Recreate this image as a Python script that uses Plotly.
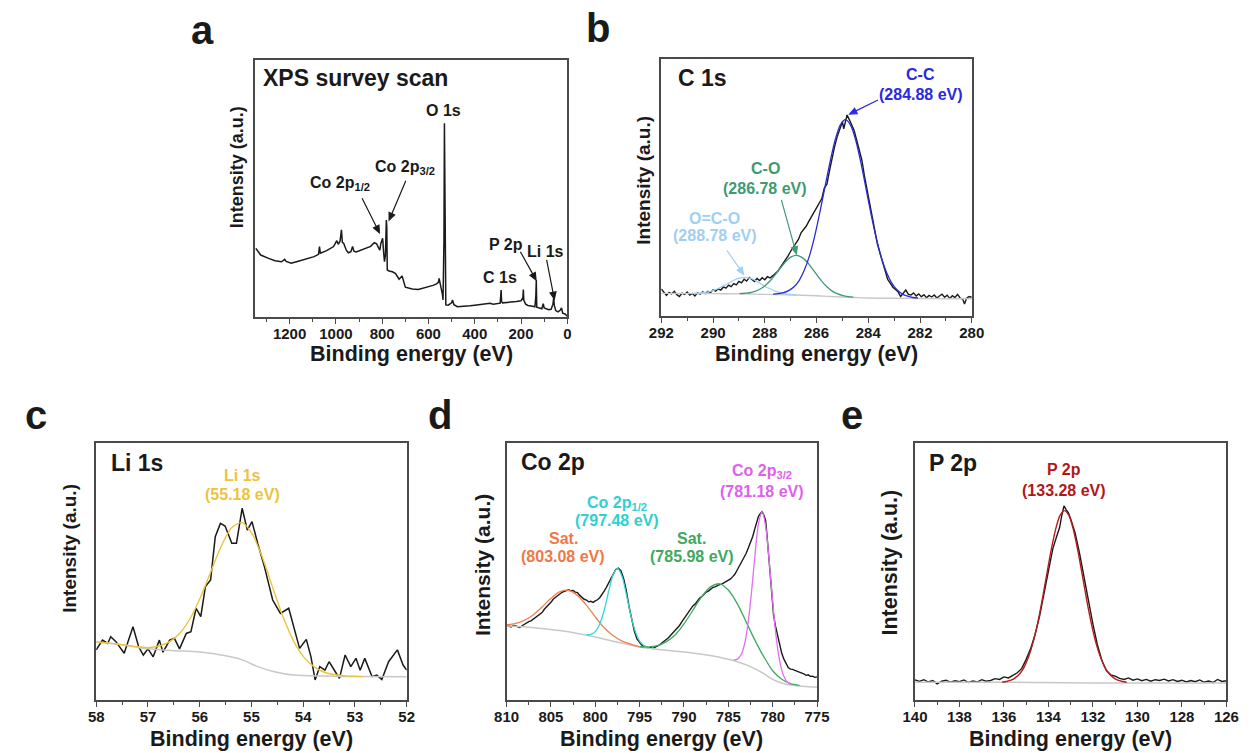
import math
import plotly.graph_objects as go

W, H = 1258, 753
FONT = "Liberation Sans, Arial, Helvetica, sans-serif"
INK = "#1a1a1a"
FRAME = "#4a4a4a"
BG_GREY = "#c8c8c8"

# ---------------- (a) XPS survey scan : (binding energy eV, intensity a.u.) ----------------
survey = [(1346, 26.7), (1325, 24.1), (1291, 22.8), (1263, 21.9), (1235, 21.5), (1225, 22.0), (1221, 22.4),
          (1215, 21.6), (1193, 20.9), (1170, 21.5), (1140, 22.4), (1110, 23.0), (1094, 23.5), (1075, 24.4),
          (1071, 27.4), (1067, 24.8), (1040, 25.8), (1010, 27.4), (996, 29.7), (990, 28.3), (982, 29.5),
          (976, 33.9), (972, 29.0), (966, 28.6), (955, 26.0), (946, 25.0), (935, 25.4), (928, 27.4),
          (922, 25.6), (912, 25.3), (890, 26.0), (869, 26.7), (850, 27.5), (834, 28.9), (824, 28.5),
          (816, 27.0), (810, 26.0), (806, 28.5), (802, 30.0), (798, 30.6), (794, 25.5), (790, 21.5),
          (786, 24.0), (782, 37.7), (780, 35.0), (778, 18.3), (770, 17.9), (756, 17.6), (742, 16.9),
          (727, 14.7), (714, 16.0), (700, 11.6), (670, 10.9), (644, 10.7), (620, 11.2), (600, 11.7),
          (580, 12.3), (565, 12.9), (557, 13.5), (554, 15.0), (550, 13.3), (545, 12.5), (540, 9.0),
          (537, 6.6), (533, 30.0), (531, 75.4), (529, 40.0), (527, 6.0), (525, 4.7), (515, 4.6),
          (500, 5.5), (496, 6.6), (490, 4.8), (475, 4.0), (450, 4.1), (420, 4.4), (400, 4.6), (370, 4.8),
          (350, 5.0), (334, 5.3), (320, 5.0), (300, 5.2), (290, 5.4), (286, 10.5), (284, 6.0), (280, 5.5),
          (260, 5.6), (240, 5.8), (220, 6.0), (200, 6.3), (192, 7.5), (190, 10.7), (188, 6.5), (180, 5.0),
          (170, 4.5), (150, 4.2), (140, 4.0), (136, 8.0), (134, 14.4), (132, 3.8), (120, 3.5), (110, 3.2),
          (104, 5.2), (100, 3.5), (80, 2.8), (70, 3.0), (62, 5.0), (59, 7.3), (56, 4.5), (50, 2.5),
          (40, 2.0), (31, 2.6), (25, 3.5), (20, 1.5), (10, 1.2), (0, 0.3)]

# ---------------- (b) C 1s ----------------
c1s_raw = [(292.0, 10.5), (291.9, 9.0), (291.8, 8.0), (291.7, 9.2), (291.6, 8.6), (291.5, 9.6), (291.4, 8.3),
           (291.3, 7.6), (291.2, 8.9), (291.1, 8.4), (291.0, 9.3), (290.9, 8.1), (290.8, 8.8), (290.7, 7.8),
           (290.6, 9.0), (290.5, 8.5), (290.4, 9.4), (290.3, 8.7), (290.2, 9.6), (290.1, 9.1), (290.0, 10.2),
           (289.9, 9.7), (289.8, 10.6), (289.7, 10.1), (289.6, 11.3), (289.5, 10.8), (289.4, 12.0), (289.3, 11.4),
           (289.2, 12.6), (289.1, 12.1), (289.0, 13.5), (288.9, 12.9), (288.8, 14.3), (288.7, 13.6), (288.6, 15.0),
           (288.5, 14.2), (288.4, 13.4), (288.3, 14.6), (288.2, 13.8), (288.1, 14.9), (288.0, 14.1), (287.9, 15.3),
           (287.8, 14.8), (287.7, 15.6), (287.6, 16.4), (287.5, 17.4), (287.4, 18.9), (287.3, 20.3), (287.2, 22.2),
           (287.1, 23.4), (287.0, 25.2), (286.9, 26.6), (286.8, 28.1), (286.7, 29.8), (286.6, 32.4), (286.5, 33.6),
           (286.4, 34.9), (286.3, 36.8), (286.2, 38.6), (286.1, 40.2), (286.0, 41.9), (285.9, 43.5), (285.8, 45.6),
           (285.7, 49.8), (285.6, 51.3), (285.5, 56.5), (285.4, 61.6), (285.3, 66.0), (285.2, 69.8), (285.1, 73.2),
           (285.0, 75.6), (284.95, 72.8), (284.88, 76.4), (284.82, 78.2), (284.75, 76.8), (284.65, 74.2),
           (284.55, 72.3), (284.45, 68.5), (284.35, 64.6), (284.25, 60.7), (284.15, 54.6), (284.05, 49.2),
           (283.95, 43.0), (283.85, 38.6), (283.75, 32.8), (283.65, 28.2), (283.55, 24.5), (283.45, 21.0),
           (283.35, 17.1), (283.25, 14.2), (283.15, 12.8), (283.05, 11.2), (282.95, 10.3), (282.85, 9.4),
           (282.75, 7.6), (282.65, 8.9), (282.55, 10.1), (282.45, 8.4), (282.35, 8.2), (282.25, 9.0), (282.15, 7.8),
           (282.05, 8.6), (281.95, 7.5), (281.85, 8.3), (281.75, 7.1), (281.65, 8.0), (281.55, 7.4), (281.45, 8.2),
           (281.35, 7.0), (281.25, 7.8), (281.15, 8.5), (281.05, 7.3), (280.95, 8.1), (280.85, 6.8), (280.75, 7.9),
           (280.65, 7.2), (280.55, 8.4), (280.45, 7.0), (280.35, 6.5), (280.28, 4.7), (280.2, 6.9), (280.1, 7.6),
           (280.0, 7.3)]
c1s_bg = [(292.0, 8.8), (290.0, 8.7), (289.0, 8.6), (288.0, 8.4), (287.0, 8.2), (286.0, 7.9), (285.5, 7.6),
          (285.0, 7.4), (284.5, 7.2), (284.0, 7.0), (283.0, 6.9), (282.0, 6.8), (280.0, 6.7)]
c1s_cc = [(287.68, 8.5), (287.48, 8.7), (287.28, 9.1), (287.08, 9.9), (286.88, 11.3), (286.68, 13.7),
          (286.48, 17.7), (286.28, 23.2), (286.08, 30.7), (285.88, 39.9), (285.68, 49.9), (285.48, 59.9),
          (285.28, 68.5), (285.08, 74.4), (284.88, 76.4), (284.68, 74.2), (284.48, 68.2), (284.28, 59.4),
          (284.08, 49.2), (283.88, 39.0), (283.68, 29.8), (283.48, 22.3), (283.28, 16.6), (283.08, 12.6),
          (282.88, 10.1), (282.68, 8.5), (282.48, 7.7), (282.28, 7.2), (282.08, 7.0)]
c1s_co = [(288.98, 8.7), (288.78, 8.85), (288.58, 9.05), (288.38, 9.6), (288.18, 10.5), (287.98, 11.9),
          (287.78, 13.8), (287.58, 16.3), (287.38, 18.9), (287.18, 21.3), (286.98, 23.0), (286.78, 23.6),
          (286.58, 22.9), (286.38, 21.2), (286.18, 18.6), (285.98, 15.9), (285.78, 13.3), (285.58, 11.2),
          (285.38, 9.6), (285.18, 8.6), (284.98, 7.95), (284.78, 7.55), (284.58, 7.35)]
c1s_oco = [(290.78, 8.8), (290.58, 8.9), (290.38, 9.1), (290.18, 9.4), (289.98, 10.0), (289.78, 10.8),
           (289.58, 11.8), (289.38, 12.9), (289.18, 14.0), (288.98, 14.7), (288.78, 15.0), (288.58, 14.7),
           (288.38, 13.9), (288.18, 12.7), (287.98, 11.5), (287.78, 10.5), (287.58, 9.6), (287.38, 9.0),
           (287.18, 8.6), (286.98, 8.4), (286.78, 8.2)]

# ---------------- (c) Li 1s ----------------
li1s_raw = [(58.00, 19.5), (57.88, 23.3), (57.78, 22.0), (57.72, 24.6), (57.62, 22.7), (57.46, 18.2),
            (57.29, 28.5), (57.18, 20.7), (57.09, 17.5), (57.00, 19.9), (56.90, 16.8), (56.78, 23.3),
            (56.71, 18.6), (56.58, 23.3), (56.49, 24.0), (56.39, 19.9), (56.26, 25.9), (56.17, 26.6),
            (56.07, 35.7), (55.98, 32.4), (55.89, 44.1), (55.79, 46.7), (55.70, 63.5), (55.60, 68.7),
            (55.51, 67.7), (55.38, 61.0), (55.29, 61.0), (55.18, 74.6), (55.08, 66.1), (54.99, 69.4),
            (54.88, 61.0), (54.75, 51.9), (54.59, 38.9), (54.44, 33.7), (54.28, 35.7), (54.18, 28.5),
            (54.07, 20.1), (53.94, 23.6), (53.85, 16.8), (53.77, 7.8), (53.68, 13.0), (53.58, 11.6),
            (53.50, 14.9), (53.38, 11.0), (53.30, 8.4), (53.19, 17.5), (53.08, 13.0), (52.98, 16.2),
            (52.90, 11.6), (52.81, 16.2), (52.67, 9.1), (52.58, 9.7), (52.48, 8.0), (52.35, 14.9),
            (52.18, 19.5), (52.07, 13.6), (52.00, 11.6)]
li1s_bg = [(58.0, 22.6), (57.6, 21.8), (57.3, 20.8), (57.0, 19.9), (56.5, 19.2), (56.0, 18.7), (55.5, 17.2),
           (55.18, 15.6), (54.88, 13.0), (54.56, 11.0), (54.18, 9.7), (53.6, 9.3), (53.0, 9.1), (52.0, 9.0)]
li1s_fit = [(58.0, 22.6), (57.6, 21.8), (57.38, 21.2), (57.18, 20.7), (56.98, 20.4), (56.78, 21.0),
            (56.58, 22.7), (56.38, 26.1), (56.18, 31.9), (55.98, 40.2), (55.78, 50.2), (55.58, 60.0),
            (55.38, 67.1), (55.18, 69.0), (54.98, 64.4), (54.78, 55.0), (54.58, 43.2), (54.38, 31.9),
            (54.18, 22.7), (53.98, 16.5), (53.78, 12.8), (53.58, 10.7), (53.38, 9.8), (53.18, 9.4),
            (52.98, 9.2), (52.85, 9.1)]

# ---------------- (d) Co 2p ----------------
co2p_raw = [(810.0, 29.2), (809.75, 28.8), (809.5, 28.4), (809.25, 29.0), (809.0, 28.9), (808.75, 28.5),
            (808.5, 28.2), (808.25, 28.9), (808.0, 29.5), (807.75, 29.8), (807.5, 30.5), (807.25, 30.8),
            (807.0, 31.4), (806.75, 32.3), (806.5, 32.8), (806.25, 33.3), (806.0, 34.0), (805.75, 35.3),
            (805.5, 36.2), (805.25, 36.9), (805.0, 38.0), (804.75, 39.2), (804.5, 39.9), (804.25, 40.4),
            (804.0, 41.2), (803.75, 41.9), (803.5, 42.3), (803.25, 42.6), (803.0, 42.9), (802.75, 42.5),
            (802.5, 42.6), (802.25, 42.0), (802.0, 41.8), (801.75, 40.7), (801.5, 40.0), (801.25, 39.2),
            (801.0, 38.9), (800.75, 38.2), (800.5, 38.4), (800.25, 38.0), (800.0, 38.6), (799.75, 39.0),
            (799.5, 39.8), (799.25, 40.9), (799.0, 42.4), (798.75, 43.8), (798.5, 45.6), (798.25, 47.5),
            (798.0, 49.2), (797.7, 50.8), (797.4, 51.3), (797.1, 50.2), (796.8, 47.2), (796.5, 42.6),
            (796.2, 36.5), (795.9, 31.1), (795.6, 26.8), (795.3, 23.8), (795.0, 22.2), (794.75, 21.3),
            (794.5, 20.9), (794.25, 20.4), (794.0, 20.2), (793.75, 20.5), (793.5, 20.0), (793.25, 20.6),
            (793.0, 20.9), (792.75, 21.4), (792.5, 22.2), (792.25, 22.8), (792.0, 23.6), (791.75, 24.2),
            (791.5, 25.2), (791.25, 26.1), (791.0, 27.2), (790.75, 27.9), (790.5, 29.0), (790.25, 30.4),
            (790.0, 31.6), (789.75, 33.1), (789.5, 34.4), (789.25, 35.4), (789.0, 36.6), (788.75, 37.3),
            (788.5, 38.5), (788.25, 39.6), (788.0, 40.2), (787.75, 41.2), (787.5, 42.0), (787.25, 42.4),
            (787.0, 43.2), (786.75, 43.8), (786.5, 44.0), (786.25, 44.6), (786.0, 44.9), (785.75, 45.1),
            (785.5, 45.6), (785.25, 46.4), (785.0, 46.6), (784.75, 47.1), (784.5, 48.0), (784.25, 49.0),
            (784.0, 50.6), (783.75, 52.1), (783.5, 53.8), (783.25, 55.2), (783.0, 57.0), (782.75, 59.1),
            (782.5, 61.2), (782.25, 63.6), (782.0, 66.8), (781.8, 69.2), (781.6, 71.5), (781.4, 72.5),
            (781.2, 73.3), (781.0, 72.0), (780.8, 70.0), (780.65, 64.5), (780.5, 58.0), (780.35, 51.0),
            (780.2, 44.0), (780.05, 38.0), (779.9, 33.0), (779.7, 29.0), (779.5, 25.9), (779.25, 21.8),
            (779.0, 18.5), (778.75, 16.0), (778.5, 14.0), (778.25, 12.6), (778.0, 12.0), (777.75, 11.9),
            (777.5, 11.5), (777.25, 11.2), (777.0, 10.8), (776.75, 10.6), (776.5, 10.2), (776.25, 9.6),
            (776.0, 9.8), (775.75, 9.2), (775.5, 9.3), (775.25, 8.8), (775.0, 9.0)]
co2p_bg = [(810.0, 28.8), (808.0, 28.5), (806.0, 27.8), (804.0, 27.0), (802.0, 25.9), (800.0, 24.5),
           (798.0, 22.9), (796.0, 21.3), (794.0, 20.1), (792.0, 19.4), (790.0, 18.7), (788.0, 17.8),
           (786.0, 16.6), (784.0, 14.9), (782.5, 13.0), (781.0, 10.3), (780.0, 8.0), (779.0, 6.6),
           (778.0, 5.8), (776.0, 5.2), (775.0, 5.1)]
co2p_sat1 = [(810.0, 29.2), (809.08, 29.7), (808.08, 30.9), (807.08, 32.9), (806.08, 35.9), (805.08, 39.3),
             (804.08, 42.0), (803.08, 42.7), (802.08, 40.9), (801.08, 37.2), (800.08, 32.7), (799.08, 28.4),
             (798.08, 25.3), (797.08, 23.1), (796.08, 21.8), (795.08, 20.8), (794.5, 20.4)]
co2p_half = [(800.98, 25.4), (800.48, 25.5), (799.98, 26.7), (799.48, 29.7), (798.98, 35.1), (798.48, 42.4),
             (797.98, 48.8), (797.48, 51.2), (796.98, 48.0), (796.48, 40.8), (795.98, 32.7), (795.48, 26.6),
             (794.98, 22.8), (794.48, 21.1), (793.98, 20.3)]
co2p_sat2 = [(794.98, 20.8), (793.98, 20.7), (792.98, 21.2), (791.98, 22.7), (790.98, 25.4), (789.98, 29.7),
             (788.98, 35.0), (787.98, 40.3), (786.98, 44.1), (785.98, 45.2), (784.98, 42.7), (783.98, 37.4),
             (782.98, 30.3), (781.98, 23.1), (780.98, 16.7), (779.98, 11.3), (778.98, 8.1), (777.98, 6.4),
             (776.98, 5.7)]
co2p_three = [(784.38, 15.6), (783.98, 15.9), (783.58, 17.5), (783.18, 21.6), (782.78, 29.8), (782.38, 42.2),
              (781.98, 56.9), (781.58, 69.0), (781.18, 73.3), (780.78, 67.3), (780.38, 53.5), (779.98, 37.5),
              (779.58, 23.8), (779.18, 14.6), (778.78, 9.5), (778.38, 7.1), (777.98, 6.1)]

# ---------------- (e) P 2p ----------------
p2p_raw = [(140.0, 7.8), (139.8, 7.2), (139.6, 7.9), (139.4, 7.0), (139.2, 7.6), (139.0, 6.3), (138.8, 7.3),
           (138.6, 7.7), (138.4, 6.9), (138.2, 7.5), (138.0, 7.1), (137.8, 7.8), (137.6, 6.8), (137.4, 7.4),
           (137.2, 7.0), (137.0, 7.9), (136.8, 7.3), (136.6, 7.6), (136.4, 8.3), (136.2, 8.0), (136.0, 9.0),
           (135.8, 8.6), (135.6, 9.6), (135.4, 10.6), (135.2, 12.3), (135.0, 15.8), (134.8, 20.0), (134.6, 25.5),
           (134.4, 32.5), (134.2, 41.0), (134.0, 50.5), (133.8, 59.0), (133.6, 64.5), (133.5, 67.0),
           (133.4, 71.8), (133.3, 75.5), (133.2, 74.0), (133.1, 72.8), (133.0, 70.4), (132.8, 65.0),
           (132.6, 57.0), (132.4, 47.5), (132.2, 38.0), (132.0, 29.5), (131.8, 21.5), (131.6, 15.5),
           (131.4, 11.5), (131.2, 9.8), (131.0, 9.3), (130.8, 8.4), (130.6, 8.0), (130.4, 8.6), (130.2, 7.7),
           (130.0, 8.2), (129.8, 7.5), (129.6, 8.0), (129.4, 7.3), (129.2, 7.9), (129.0, 7.6), (128.8, 8.1),
           (128.6, 7.4), (128.4, 7.9), (128.2, 7.2), (128.0, 7.7), (127.8, 7.0), (127.6, 7.6), (127.4, 7.1),
           (127.2, 7.8), (127.0, 6.9), (126.8, 7.4), (126.6, 6.8), (126.4, 8.0), (126.2, 7.2), (126.0, 7.5)]
p2p_bg = [(140.0, 6.9), (136.0, 6.9), (133.3, 6.75), (131.0, 6.6), (126.0, 6.6)]
p2p_fit = [(136.08, 6.9), (135.88, 7.2), (135.68, 7.7), (135.48, 8.7), (135.28, 10.3), (135.08, 13.0),
           (134.88, 17.1), (134.68, 22.7), (134.48, 30.1), (134.28, 39.0), (134.08, 48.7), (133.88, 58.2),
           (133.68, 66.3), (133.48, 71.8), (133.28, 73.7), (133.08, 71.8), (132.88, 66.3), (132.68, 58.2),
           (132.48, 48.7), (132.28, 39.0), (132.08, 30.1), (131.88, 22.7), (131.68, 17.1), (131.48, 13.0),
           (131.28, 10.3), (131.08, 8.7), (130.88, 7.7), (130.68, 7.2), (130.48, 6.9)]

# ---------------- panel geometry (pixels) ----------------
panels = {
    1: dict(box=(247, 566, 60, 317), rng=[1350, 0], dtick=200, minor=100),
    2: dict(box=(662, 979, 59, 316), rng=[292, 280], dtick=2, minor=1),
    3: dict(box=(85, 402, 443, 700), rng=[58, 52], dtick=1, minor=0.5),
    4: dict(box=(504, 821, 443, 700), rng=[810, 775], dtick=5, minor=2.5),
    5: dict(box=(921, 1239, 443, 700), rng=[140, 126], dtick=2, minor=1),
}


def px(x):
    return x / W


def py(y):
    return 1 - y / H


def ax_names(n):
    return ("x", "y") if n == 1 else (f"x{n}", f"y{n}")


fig = go.Figure()


def add_line(n, pairs, color, width, smooth=False):
    xa, ya = ax_names(n)
    fig.add_trace(go.Scatter(
        x=[p[0] for p in pairs], y=[p[1] for p in pairs], mode="lines",
        line=dict(color=color, width=width, shape="spline" if smooth else "linear",
                  smoothing=0.8 if smooth else None),
        xaxis=xa, yaxis=ya, showlegend=False, hoverinfo="skip"))


# (a)
add_line(1, survey, INK, 1.5)
# (b)
add_line(2, c1s_raw, INK, 1.4)
add_line(2, c1s_bg, BG_GREY, 1.4, True)
add_line(2, c1s_oco, "#9fd0f2", 1.3, True)
add_line(2, c1s_co, "#3f9a72", 1.3, True)
add_line(2, c1s_cc, "#2b2bd6", 1.3, True)
# (c)
add_line(3, li1s_raw, INK, 1.5)
add_line(3, li1s_bg, BG_GREY, 1.5, True)
add_line(3, li1s_fit, "#ecc43c", 1.4, True)
# (d)
add_line(4, co2p_raw, INK, 1.4)
add_line(4, co2p_bg, BG_GREY, 1.5, True)
add_line(4, co2p_sat1, "#f08050", 1.3, True)
add_line(4, co2p_half, "#35d6d6", 1.3, True)
add_line(4, co2p_sat2, "#3fa860", 1.3, True)
add_line(4, co2p_three, "#e070f0", 1.3, True)
# (e)
add_line(5, p2p_raw, INK, 1.4)
add_line(5, p2p_bg, BG_GREY, 1.5, True)
add_line(5, p2p_fit, "#b81c1c", 1.4, True)

layout = dict(width=W, height=H, margin=dict(l=0, r=0, t=0, b=0),
              paper_bgcolor="white", plot_bgcolor="white", showlegend=False,
              font=dict(family=FONT, color=INK))

for n, p in panels.items():
    x0, x1, y0, y1 = p["box"]
    xk = "xaxis" if n == 1 else f"xaxis{n}"
    yk = "yaxis" if n == 1 else f"yaxis{n}"
    xa, ya = ax_names(n)
    layout[xk] = dict(
        domain=[px(x0), px(x1)], range=p["rng"], anchor=ya,
        showline=True, mirror=True, linecolor=FRAME, linewidth=1.5,
        showgrid=False, zeroline=False,
        tickmode="linear", tick0=0, dtick=p["dtick"], ticks="outside", ticklen=5,
        tickwidth=1.3, tickcolor=FRAME, ticklabelstandoff=-3,
        minor=dict(dtick=p["minor"], ticks="outside", ticklen=3, tickwidth=1.1, tickcolor=FRAME),
        tickfont=dict(family=FONT, size=15, color=INK, weight="bold"))
    layout[yk] = dict(
        domain=[py(y1), py(y0)], range=[0, 100], anchor=xa,
        showline=True, mirror=True, linecolor=FRAME, linewidth=1.5,
        showgrid=False, zeroline=False, ticks="", showticklabels=False)

fig.update_layout(**layout)

annotations = []
shapes = []


def txt(n, x, y, text, color=INK, size=16, xanchor="center"):
    xa, ya = ax_names(n)
    annotations.append(dict(x=x, y=y, xref=xa, yref=ya, text=text, showarrow=False,
                            xanchor=xanchor, yanchor="middle",
                            font=dict(family=FONT, size=size, color=color, weight="bold")))


def pointer(n, head, tail_offset, color=INK, head_len=7.0, head_half=3.0):
    """Arrow drawn as a pixel-sized path anchored at the head point (data coords).
    tail_offset is (right, up) in pixels from the head to the start of the shaft."""
    xa, ya = ax_names(n)
    dx, dy = tail_offset
    L = math.hypot(dx, dy)
    ux, uy = dx / L, dy / L
    nx, ny = -uy, ux
    bx, by = ux * head_len, uy * head_len
    p1 = (bx + nx * head_half, by + ny * head_half)
    p2 = (bx - nx * head_half, by - ny * head_half)
    path = (f"M {dx:.2f},{dy:.2f} L {bx:.2f},{by:.2f} "
            f"M 0,0 L {p1[0]:.2f},{p1[1]:.2f} L {p2[0]:.2f},{p2[1]:.2f} Z")
    shapes.append(dict(type="path", xref=xa, yref=ya, xsizemode="pixel", ysizemode="pixel",
                       xanchor=head[0], yanchor=head[1], path=path,
                       line=dict(color=color, width=1.2), fillcolor=color, layer="above"))


def paper_txt(x, y, text, size, angle=0):
    annotations.append(dict(x=px(x), y=py(y), xref="paper", yref="paper", text=text, showarrow=False,
                            xanchor="center", yanchor="middle", textangle=angle,
                            font=dict(family=FONT, size=size, color=INK, weight="bold")))


# panel titles
txt(1, 1324, 93.0, "XPS survey scan", size=23, xanchor="left")
txt(2, 291.43, 92.6, "C 1s", size=23, xanchor="left")
txt(3, 57.75, 92.2, "Li 1s", size=23, xanchor="left")
txt(4, 808.56, 92.6, "Co 2p", size=23, xanchor="left")
txt(5, 139.47, 92.2, "P 2p", size=23, xanchor="left")

# (a) peak assignments
txt(1, 533, 80.2, "O 1s")
txt(1, 702, 58.0, "Co 2p<sub>3/2</sub>")
txt(1, 982, 52.1, "Co 2p<sub>1/2</sub>")
txt(1, 267, 28.4, "P 2p")
txt(1, 93, 25.3, "Li 1s")
txt(1, 292, 15.2, "C 1s")
pointer(1, (812, 32.8), (-17.3, 34.4))
pointer(1, (770, 37.7), (16.7, 39.3))
pointer(1, (135, 14.4), (-15.7, 28.3))
pointer(1, (56, 6.9), (-7.7, 39.3))

# (b) C 1s components
txt(2, 281.98, 93.8, "C-C", "#2a2ae0")
txt(2, 281.98, 86.0, "(284.88 eV)", "#2a2ae0")
pointer(2, (284.72, 78.6), (28.3, 14.0), "#2a2ae0")
txt(2, 287.98, 57.5, "C-O", "#3f9a72")
txt(2, 287.98, 49.7, "(286.78 eV)", "#3f9a72")
pointer(2, (286.78, 24.2), (-15.0, 54.0), "#3f9a72")
txt(2, 289.93, 38.0, "O=C-O", "#9fd0f2")
txt(2, 289.93, 31.3, "(288.78 eV)", "#9fd0f2")
pointer(2, (288.82, 16.2), (-16.7, 24.0), "#9fd0f2")

# (c) Li 1s
txt(3, 55.18, 87.2, "Li 1s", "#ecc43c")
txt(3, 55.18, 79.8, "(55.18 eV)", "#ecc43c")

# (d) Co 2p
txt(4, 781.18, 88.8, "Co 2p<sub>3/2</sub>", "#e060ee")
txt(4, 781.18, 81.1, "(781.18 eV)", "#e060ee")
txt(4, 797.56, 76.5, "Co 2p<sub>1/2</sub>", "#30d0d0")
txt(4, 797.56, 70.0, "(797.48 eV)", "#30d0d0")
txt(4, 803.63, 62.9, "Sat.", "#f07848")
txt(4, 803.63, 55.8, "(803.08 eV)", "#f07848")
txt(4, 789.1, 62.9, "Sat.", "#3fa860")
txt(4, 789.1, 55.8, "(785.98 eV)", "#3fa860")

# (e) P 2p
txt(5, 133.28, 89.5, "P 2p", "#b01818")
txt(5, 133.28, 81.7, "(133.28 eV)", "#b01818")

# axis titles
for xc, yc in [(406.5, 354), (820.5, 354), (243.5, 739), (662.5, 739), (1080, 739)]:
    paper_txt(xc, yc, "Binding energy (eV)", 21.5)
for xc, yc, fs in [(229, 167, 18), (643, 180, 19), (57, 548, 19), (479, 565, 21), (895, 563, 21.5)]:
    paper_txt(xc, yc, "Intensity (a.u.)", fs, angle=-90)

# panel letters
for xc, yc, letter in [(193, 30, "a"), (597, 28, "b"), (23, 415, "c"), (436, 415, "d"), (857, 415, "e")]:
    paper_txt(xc, yc, letter, 40)

fig.update_layout(annotations=annotations, shapes=shapes)
fig.write_html("out.html")
